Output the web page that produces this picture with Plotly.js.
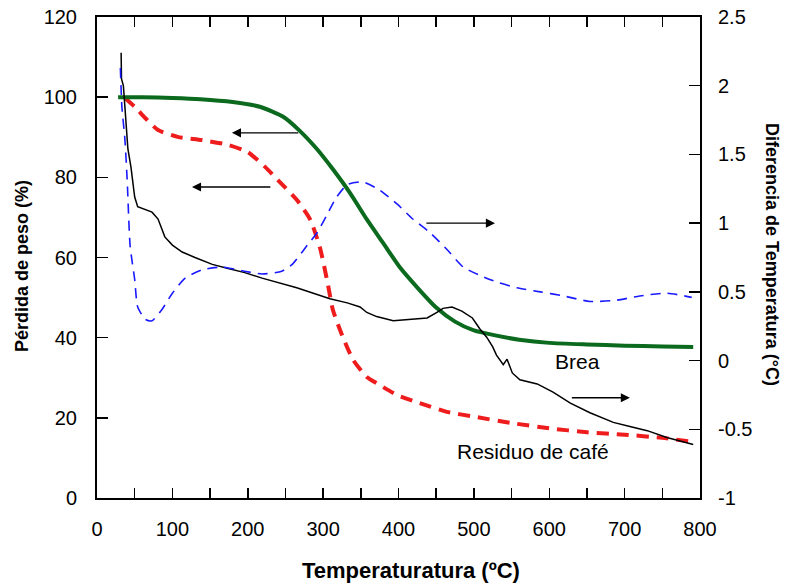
<!DOCTYPE html>
<html>
<head>
<meta charset="utf-8">
<script src="https://cdn.plot.ly/plotly-3.0.1.min.js"></script>
<style>
  html, body { margin: 0; padding: 0; background: #fff; }
  #chart { width: 786px; height: 584px; }
</style>
</head>
<body>
<div id="chart"></div>
<script>
// Brea: pérdida de peso (%)
const breaTemp = [28, 60, 100, 137, 180, 216, 247, 269, 292, 313, 336, 358, 380, 402, 425, 450, 475, 500, 530, 560, 600, 650, 700, 750, 791];
const breaPeso = [100, 100, 99.8, 99.5, 98.8, 97.6, 95.1, 91.6, 87, 82, 76, 69.5, 63.5, 57.5, 52.5, 47.5, 44, 41.8, 40.5, 39.5, 38.7, 38.3, 38.0, 37.8, 37.7];

// Residuo de café: pérdida de peso (%)
const cafeTemp = [37, 50, 64, 81, 107, 139, 174, 200, 223, 240, 265, 283, 296, 306, 313, 326, 340, 358, 375, 398, 428, 464, 500, 550, 600, 650, 700, 750, 791];
const cafePeso = [99.8, 97.6, 94.8, 91.8, 90.1, 89.3, 88.1, 86.3, 82.6, 79.3, 74.4, 69.4, 62.3, 53.6, 46.9, 40.2, 34.4, 30.2, 28.2, 25.7, 23.7, 21.5, 20.3, 18.7, 17.4, 16.4, 15.8, 15.0, 14.0];

// Brea: diferencia de temperatura (°C)
const breaDtaTemp = [31, 33, 37, 40, 44, 50, 54, 64, 73, 86, 100, 117, 139, 166, 196, 219, 245, 259, 279, 292, 305, 318, 332, 353, 375, 398, 419, 442, 464, 486, 508, 531, 557, 588, 619, 654, 690, 720, 756, 789];
const breaDta = [2.13, 1.85, 1.61, 1.32, 0.83, 0.59, 0.39, 0.30, 0.29, 0.37, 0.49, 0.60, 0.66, 0.68, 0.65, 0.63, 0.65, 0.70, 0.84, 0.93, 1.06, 1.19, 1.28, 1.30, 1.24, 1.14, 1.03, 0.93, 0.81, 0.68, 0.62, 0.57, 0.53, 0.50, 0.47, 0.43, 0.44, 0.47, 0.49, 0.46];

// Residuo de café: diferencia de temperatura (°C)
const cafeDtaTemp = [32, 32.5, 35, 37, 40, 41, 45, 48, 50, 54, 64, 73, 81, 90, 100, 113, 130, 153, 174, 196, 219, 240, 265, 287, 309, 332, 349, 358, 371, 393, 419, 438, 451, 459, 471, 484, 498, 508, 517, 525, 530, 539, 544, 551, 561, 584, 605, 628, 654, 685, 707, 730, 756, 791];
const cafeDta = [2.24, 2.05, 2.0, 1.85, 1.66, 1.54, 1.41, 1.30, 1.19, 1.12, 1.10, 1.08, 1.03, 0.90, 0.84, 0.79, 0.75, 0.70, 0.67, 0.64, 0.60, 0.57, 0.53, 0.49, 0.45, 0.42, 0.39, 0.35, 0.32, 0.29, 0.30, 0.31, 0.35, 0.38, 0.39, 0.36, 0.31, 0.23, 0.17, 0.10, 0.04, -0.03, 0.01, -0.09, -0.14, -0.17, -0.23, -0.31, -0.38, -0.45, -0.48, -0.51, -0.56, -0.61];

// Axis ticks
const rightTickVals = [-1, -0.5, 0, 0.5, 1, 1.5, 2, 2.5];
const rightTickText = ['-1', '-0.5', '0', '0.5', '1', '1.5', '2', '2.5'];

const FONT = 'Liberation Sans, Arial, sans-serif';

// Plot area in pixels
const M = { l: 97, r: 86, t: 17, b: 86 };
const W = 786, H = 584;
const plotW = W - M.l - M.r, plotH = H - M.t - M.b;
const px = x => (x - M.l) / plotW;          // page x -> paper x
const py = y => (H - M.b - y) / plotH;      // page y -> paper y

const traces = [
  {
    x: cafeDtaTemp, y: cafeDta, yaxis: 'y2', mode: 'lines', name: 'DTA café',
    line: { color: '#000000', width: 1.5 }
  },
  {
    x: breaDtaTemp, y: breaDta, yaxis: 'y2', mode: 'lines', name: 'DTA brea',
    line: { color: '#1a1aff', width: 1.6, dash: '10px,7px', shape: 'spline', smoothing: 0.6 }
  },
  {
    x: cafeTemp, y: cafePeso, mode: 'lines', name: 'Residuo de café',
    line: { color: '#ee1c1c', width: 4, dash: '12px,8px', shape: 'spline', smoothing: 0.6 }
  },
  {
    x: breaTemp, y: breaPeso, mode: 'lines', name: 'Brea',
    line: { color: '#0b6a1e', width: 4, shape: 'spline', smoothing: 0.6 }
  }
];

function arrow(xHead, yHead, xTail, yTail, yref) {
  return {
    x: xHead, y: yHead, ax: xTail, ay: yTail,
    xref: 'x', yref: yref, axref: 'x', ayref: yref,
    showarrow: true, arrowhead: 2, arrowsize: 1.3, arrowwidth: 1.4,
    arrowcolor: '#000', text: ''
  };
}

function title(text, x, y, size, angle) {
  return {
    text: '<b>' + text + '</b>', x: px(x), y: py(y), xref: 'paper', yref: 'paper',
    xanchor: 'center', yanchor: 'middle', textangle: angle, showarrow: false,
    font: { size: size, family: FONT, color: '#000' }
  };
}

const layout = {
  width: W, height: H,
  margin: M,
  paper_bgcolor: '#fff', plot_bgcolor: '#fff',
  showlegend: false,
  font: { family: FONT, color: '#000', size: 20 },
  xaxis: {
    range: [0, 800], dtick: 100, tick0: 0,
    ticks: 'inside', ticklen: 10, tickwidth: 1.5, tickcolor: '#000',
    minor: { dtick: 50, ticks: 'inside', ticklen: 10, tickwidth: 1.5, tickcolor: '#000' },
    showline: true, linewidth: 2, linecolor: '#000', mirror: 'ticks',
    showgrid: false, zeroline: false,
    tickfont: { size: 20, family: FONT }, ticklabelstandoff: 12
  },
  yaxis: {
    range: [0, 120], dtick: 20,
    ticks: 'inside', ticklen: 11, tickwidth: 1.5, tickcolor: '#000',
    showline: true, linewidth: 2, linecolor: '#000',
    showgrid: false, zeroline: false,
    tickfont: { size: 20, family: FONT }, ticklabelstandoff: 14
  },
  yaxis2: {
    overlaying: 'y', side: 'right', range: [-1, 2.5],
    tickvals: rightTickVals, ticktext: rightTickText,
    ticks: 'inside', ticklen: 11, tickwidth: 1.5, tickcolor: '#000',
    showline: true, linewidth: 2, linecolor: '#000',
    showgrid: false, zeroline: false,
    tickfont: { size: 20, family: FONT }, ticklabelstandoff: 12
  },
  annotations: [
    arrow(179, 91.1, 269, 91.1, 'y'),
    arrow(126, 77.6, 232, 77.6, 'y'),
    arrow(528, 1.0, 435, 1.0, 'y2'),
    arrow(707, -0.27, 628, -0.27, 'y2'),
    { x: 638, y: 34, xref: 'x', yref: 'y', text: 'Brea', showarrow: false,
      font: { size: 21, family: FONT, color: '#000' } },
    { x: 578, y: 11.5, xref: 'x', yref: 'y', text: 'Residuo de café', showarrow: false,
      font: { size: 21, family: FONT, color: '#000' } },
    title('Temperaturatura (ºC)', 411, 570, 22, 0),
    title('Pérdida de peso (%)', 22, 266, 18, -90),
    title('Diferencia de Temperatura (°C)', 772, 255, 18, 90)
  ]
};

Plotly.newPlot('chart', traces, layout, { staticPlot: true, displayModeBar: false });
</script>
</body>
</html>
